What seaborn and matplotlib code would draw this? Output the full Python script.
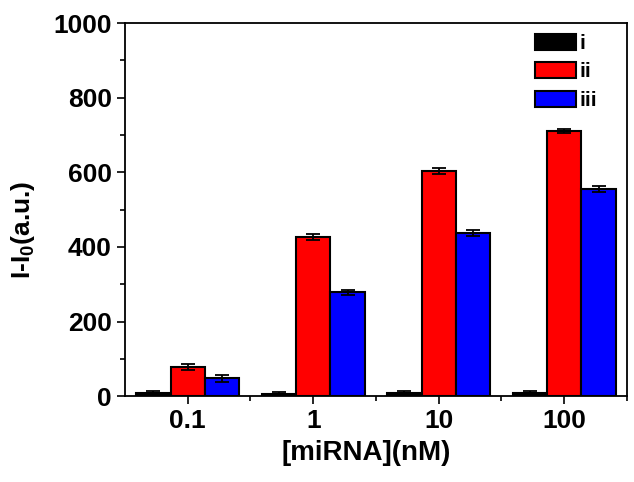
import matplotlib
matplotlib.use("Agg")
import matplotlib.pyplot as plt
import seaborn as sns
import pandas as pd
import numpy as np
from matplotlib.ticker import MultipleLocator, FixedLocator

# values
concentrations = ["0.1", "1", "10", "100"]
series = ["i", "ii", "iii"]
vals_i = [8, 7, 9, 8]
vals_ii = [78, 426, 604, 711]
vals_iii = [48, 278, 437, 556]
err_i = [5, 5, 6, 5]
err_ii = [8, 8, 8, 6]
err_iii = [9, 8, 8, 8]
colors = ["#000000", "#ff0000", "#0000ff"]

data = pd.DataFrame({
    "conc": concentrations * 3,
    "series": np.repeat(series, 4),
    "value": vals_i + vals_ii + vals_iii,
    "err": err_i + err_ii + err_iii,
})

sns.set_theme(style="ticks")
plt.rcParams["font.family"] = ["Liberation Sans", "DejaVu Sans"]
plt.rcParams["font.weight"] = "bold"
plt.rcParams["text.color"] = "black"
plt.rcParams["axes.labelcolor"] = "black"
plt.rcParams["xtick.color"] = "black"
plt.rcParams["ytick.color"] = "black"
plt.rcParams["mathtext.fontset"] = "custom"
plt.rcParams["mathtext.rm"] = "Liberation Sans:bold"
plt.rcParams["mathtext.default"] = "rm"

fig = plt.figure(figsize=(6.34, 4.82), dpi=100)
ax = fig.add_axes([0.197, 0.178, 0.792, 0.774])

sns.barplot(data=data, x="conc", y="value", hue="series", order=concentrations,
            hue_order=series, palette=colors, saturation=1, width=0.82,
            errorbar=None, edgecolor="black", linewidth=1.5, ax=ax, legend=False)

# error bars at bar centres
for s_i, s in enumerate(series):
    sub = data[data["series"] == s].set_index("conc").loc[concentrations]
    cont = ax.containers[s_i]
    xs = [p.get_x() + p.get_width() / 2 for p in cont.patches]
    ax.errorbar(xs, sub["value"], yerr=sub["err"], fmt="none", ecolor="black",
                elinewidth=1.3, capsize=5, capthick=1.3)

ax.set_xlim(-0.5, 3.5)
ax.set_ylim(0, 1000)
ax.yaxis.set_major_locator(MultipleLocator(200))
ax.yaxis.set_minor_locator(MultipleLocator(100))
ax.xaxis.set_minor_locator(FixedLocator([0.5, 1.5, 2.5, 3.5]))
ax.tick_params(axis="both", which="major", direction="out", length=6, width=1.2,
               labelsize=19, colors="black")
ax.tick_params(axis="both", which="minor", direction="out", length=3.5, width=1.2,
               colors="black")
for lab in ax.get_xticklabels() + ax.get_yticklabels():
    lab.set_fontweight("bold")
for sp in ax.spines.values():
    sp.set_linewidth(1.3)
    sp.set_color("black")

ax.set_xlabel("[miRNA](nM)", fontsize=20, fontweight="bold")
ax.set_ylabel("I-I$_0$(a.u.)", fontsize=19, fontweight="bold")
ax.xaxis.set_label_coords(0.48, -0.118)
ax.yaxis.set_label_coords(-0.175, 0.445)

handles = [plt.Rectangle((0, 0), 1, 1, facecolor=c, edgecolor="black", linewidth=1.5)
           for c in colors]
leg = ax.legend(handles, series, loc="upper left", frameon=False,
                prop={"weight": "bold", "size": 15}, handlelength=1.95,
                handleheight=0.8, handletextpad=0.2, labelspacing=0.45,
                borderpad=0, borderaxespad=0,
                bbox_to_anchor=(0.817, 0.972))

fig.savefig("out.png", dpi=100)
